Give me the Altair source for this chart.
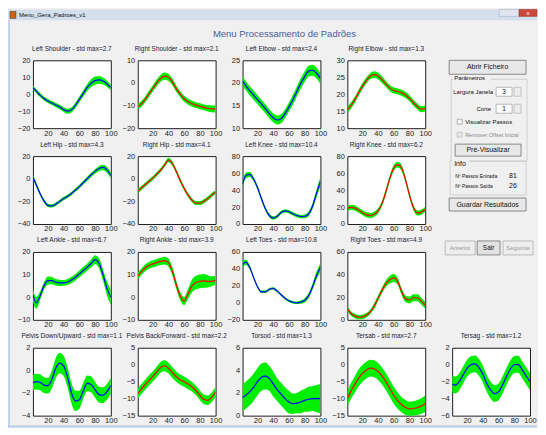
import altair as alt
import pandas as pd

# ---------------- data ----------------
X = [1, 5, 10, 15, 20, 25, 30, 35, 40, 45, 50, 55, 60, 65, 70, 75, 80, 85, 90, 95, 100]

LEFT_SHOULDER_MEAN = [3.8, 2.0, -0.5, -2.5, -4.0, -5.2, -6.3, -7.5, -9.0, -10.0, -9.2, -6.5, -3.0, 0.5, 4.0, 6.5, 8.0, 8.5, 7.8, 6.2, 4.0]
LEFT_SHOULDER_STD = [1.2, 1.2, 1.2, 1.2, 1.2, 1.2, 1.3, 1.3, 1.4, 1.5, 1.5, 1.6, 1.7, 1.9, 2.1, 2.3, 2.4, 2.3, 2.1, 1.9, 1.7]

RIGHT_SHOULDER_MEAN = [-10.5, -9.5, -7.5, -5.0, -2.5, 0.0, 2.0, 3.0, 2.5, 0.5, -2.5, -5.0, -7.0, -8.3, -9.2, -9.8, -10.3, -10.8, -11.2, -11.5, -11.5]
RIGHT_SHOULDER_STD = [1.3, 1.3, 1.3, 1.4, 1.4, 1.5, 1.5, 1.6, 1.6, 1.5, 1.4, 1.3, 1.3, 1.3, 1.3, 1.3, 1.3, 1.3, 1.4, 1.5, 1.6]

LEFT_ELBOW_MEAN = [20.4, 19.4, 18.3, 17.3, 16.3, 15.3, 14.3, 13.2, 12.3, 11.8, 12.1, 13.2, 14.7, 16.3, 18.1, 19.9, 21.4, 22.6, 22.8, 22.2, 21.0]
LEFT_ELBOW_STD = [1.1, 1.0, 1.0, 1.0, 1.0, 1.0, 1.0, 1.0, 1.0, 1.0, 1.0, 1.0, 1.0, 1.1, 1.1, 1.2, 1.2, 1.2, 1.2, 1.2, 1.2]

RIGHT_ELBOW_MEAN = [15.5, 16.5, 18.2, 20.3, 22.3, 24.0, 25.3, 25.8, 25.4, 24.3, 23.0, 21.8, 21.1, 20.8, 20.4, 19.8, 18.8, 17.5, 16.4, 15.6, 15.8]
RIGHT_ELBOW_STD = [0.9, 0.9, 0.9, 0.9, 0.9, 0.9, 0.9, 1.0, 1.0, 1.0, 0.9, 0.9, 0.9, 0.9, 0.9, 0.9, 0.9, 0.9, 0.9, 0.9, 0.9]

LEFT_HIP_MEAN = [1.5, -5.0, -13.0, -19.5, -23.5, -24.0, -22.5, -20.0, -17.5, -15.5, -13.0, -10.0, -7.0, -3.5, 0.0, 3.5, 6.5, 9.0, 10.0, 8.0, 3.0]
LEFT_HIP_STD = [2.0, 1.8, 1.6, 1.5, 1.5, 1.5, 1.5, 1.5, 1.5, 1.5, 1.5, 1.6, 1.6, 1.7, 1.8, 1.9, 2.0, 2.2, 2.4, 2.6, 2.8]

RIGHT_HIP_MEAN = [-11.0, -8.5, -5.5, -2.5, 0.5, 4.0, 7.5, 12.0, 16.5, 13.5, 6.5, -1.5, -8.5, -14.5, -19.0, -21.5, -21.5, -20.0, -17.5, -14.5, -12.0]
RIGHT_HIP_STD = [1.8, 1.8, 1.8, 1.8, 1.8, 1.8, 1.8, 1.9, 2.0, 2.0, 2.0, 2.0, 1.9, 1.8, 1.8, 1.8, 1.8, 1.8, 1.8, 1.8, 1.8]

LEFT_KNEE_MEAN = [47.0, 57.0, 58.5, 53.0, 43.0, 30.0, 18.0, 10.0, 7.0, 9.0, 13.5, 15.5, 14.5, 12.0, 10.0, 8.7, 9.0, 12.0, 21.0, 36.0, 50.0]
LEFT_KNEE_STD = [4.0, 3.5, 3.0, 2.5, 2.5, 2.5, 2.2, 2.0, 2.0, 2.0, 2.0, 2.0, 2.0, 2.0, 2.0, 2.0, 2.2, 2.6, 3.5, 4.5, 5.5]

RIGHT_KNEE_MEAN = [18.0, 19.5, 19.0, 16.5, 13.5, 11.0, 10.0, 11.5, 15.5, 24.0, 38.0, 54.0, 66.0, 70.0, 66.0, 52.0, 34.0, 19.5, 13.0, 14.0, 17.0]
RIGHT_KNEE_STD = [3.0, 3.0, 3.0, 3.0, 3.0, 3.0, 3.0, 3.0, 3.0, 3.2, 3.5, 3.5, 3.5, 3.5, 3.5, 3.5, 3.5, 3.2, 3.0, 3.0, 3.0]

LEFT_ANKLE_MEAN = [1.0, -2.5, 0.5, 5.0, 7.3, 7.3, 6.6, 6.3, 6.3, 6.7, 7.6, 8.8, 10.3, 11.8, 13.3, 14.9, 16.6, 15.0, 10.0, 4.0, 0.0]
LEFT_ANKLE_STD = [3.0, 2.6, 2.0, 1.6, 1.8, 1.6, 1.4, 1.4, 1.3, 1.3, 1.4, 1.4, 1.5, 1.6, 1.6, 1.8, 1.9, 2.2, 2.5, 3.0, 3.5]

RIGHT_ANKLE_MEAN = [9.5, 11.0, 12.8, 14.0, 14.7, 15.3, 15.8, 16.2, 15.3, 11.5, 5.5, 0.5, -1.7, 1.5, 5.0, 6.5, 7.0, 7.2, 7.0, 7.0, 7.5]
RIGHT_ANKLE_STD = [1.5, 1.5, 1.5, 1.5, 1.6, 1.6, 1.6, 1.7, 1.8, 1.8, 1.8, 1.8, 1.8, 2.2, 2.8, 3.0, 3.0, 3.0, 2.7, 2.2, 2.0]

LEFT_TOES_MEAN = [45.0, 48.0, 42.0, 30.0, 19.0, 13.0, 13.0, 16.0, 17.0, 14.0, 9.5, 5.5, 2.5, 0.7, 0.0, 0.8, 3.0, 8.5, 19.0, 32.0, 42.0]
LEFT_TOES_STD = [4.0, 3.0, 2.5, 2.0, 1.5, 1.5, 1.5, 1.5, 1.5, 1.5, 1.5, 1.5, 1.5, 1.5, 1.5, 2.0, 2.5, 3.0, 3.5, 4.5, 5.0]

RIGHT_TOES_MEAN = [10.0, 6.0, 3.5, 2.3, 2.5, 4.0, 7.0, 12.0, 19.0, 26.0, 32.0, 35.5, 37.0, 34.0, 25.0, 18.5, 17.5, 19.5, 19.5, 16.5, 13.0]
RIGHT_TOES_STD = [2.0, 2.0, 2.0, 2.0, 2.0, 2.0, 2.0, 2.5, 2.5, 2.5, 3.0, 3.5, 3.5, 3.0, 3.0, 3.0, 3.0, 3.0, 3.0, 3.0, 3.0]

PELVIS_DU_MEAN = [-1.1, -1.0, -1.05, -1.3, -1.35, -0.8, 0.2, 0.65, 0.4, -0.6, -2.0, -2.7, -2.6, -1.8, -1.15, -1.25, -1.7, -2.15, -2.2, -1.9, -1.35]
PELVIS_DU_STD = [0.7, 0.7, 0.7, 0.7, 0.7, 0.8, 0.9, 0.9, 0.9, 0.9, 0.9, 0.9, 0.8, 0.7, 0.7, 0.7, 0.7, 0.7, 0.7, 0.7, 0.7]

PELVIS_BF_MEAN = [-8.5, -7.3, -6.0, -4.7, -3.5, -2.2, -0.8, -0.3, -1.0, -2.3, -3.5, -4.4, -5.0, -5.7, -6.5, -7.6, -9.0, -10.2, -10.5, -9.6, -8.0]
PELVIS_BF_STD = [1.5, 1.5, 1.5, 1.5, 1.5, 1.6, 1.6, 1.6, 1.6, 1.6, 1.5, 1.5, 1.5, 1.5, 1.4, 1.4, 1.4, 1.4, 1.4, 1.4, 1.5]

TORSOD_MEAN = [1.6, 1.8, 2.1, 2.5, 3.0, 3.4, 3.5, 3.3, 2.8, 2.3, 1.9, 1.5, 1.2, 1.05, 1.1, 1.2, 1.35, 1.45, 1.5, 1.5, 1.5]
TORSOD_STD = [1.2, 1.2, 1.2, 1.2, 1.2, 1.2, 1.2, 1.1, 1.1, 1.0, 1.0, 1.0, 1.0, 0.9, 0.9, 1.0, 1.0, 1.1, 1.1, 1.2, 1.3]

TERSAB_MEAN = [-10.0, -8.0, -6.0, -4.0, -2.6, -1.6, -1.0, -1.2, -2.0, -3.3, -5.0, -7.0, -9.0, -10.6, -11.8, -12.6, -13.0, -12.9, -12.6, -12.2, -11.5]
TERSAB_STD = [2.2, 2.3, 2.4, 2.5, 2.5, 2.5, 2.5, 2.5, 2.5, 2.5, 2.5, 2.5, 2.5, 2.4, 2.3, 2.2, 2.1, 2.1, 2.2, 2.3, 2.4]

TERSAG_MEAN = [-2.3, -2.4, -2.0, -1.2, -0.4, 0.0, 0.1, -0.3, -1.1, -2.2, -3.0, -3.4, -3.2, -2.4, -1.4, -0.5, 0.0, 0.05, -0.6, -1.3, -2.0]
TERSAG_STD = [1.0, 1.0, 1.0, 1.0, 1.0, 1.0, 1.0, 1.0, 1.0, 1.0, 1.0, 1.0, 1.0, 1.0, 1.0, 1.0, 1.0, 1.0, 1.0, 1.0, 1.0]

X_TICKS = [20, 40, 60, 80, 100]

# ---------------- styles ----------------
BLUE = "#0000ff"
RED = "#ff0000"
GREEN = "#00ee00"
FONT = "Liberation Sans"

SERIES = [
    ("Left Shoulder - std max=2.7", LEFT_SHOULDER_MEAN, LEFT_SHOULDER_STD, BLUE, -20, 20, 10),
    ("Right Shoulder - std max=2.1", RIGHT_SHOULDER_MEAN, RIGHT_SHOULDER_STD, RED, -20, 10, 10),
    ("Left Elbow - std max=2.4", LEFT_ELBOW_MEAN, LEFT_ELBOW_STD, BLUE, 10, 25, 5),
    ("Right Elbow - std max=1.3", RIGHT_ELBOW_MEAN, RIGHT_ELBOW_STD, RED, 10, 30, 5),
    ("Left Hip - std max=4.3", LEFT_HIP_MEAN, LEFT_HIP_STD, BLUE, -40, 20, 20),
    ("Right Hip - std max=4.1", RIGHT_HIP_MEAN, RIGHT_HIP_STD, RED, -40, 20, 20),
    ("Left Knee - std max=10.4", LEFT_KNEE_MEAN, LEFT_KNEE_STD, BLUE, 0, 80, 20),
    ("Right Knee - std max=6.2", RIGHT_KNEE_MEAN, RIGHT_KNEE_STD, RED, 0, 80, 20),
    ("Left Ankle - std max=6.7", LEFT_ANKLE_MEAN, LEFT_ANKLE_STD, BLUE, -10, 20, 10),
    ("Right Ankle - std max=3.9", RIGHT_ANKLE_MEAN, RIGHT_ANKLE_STD, RED, -10, 20, 10),
    ("Left Toes - std max=10.8", LEFT_TOES_MEAN, LEFT_TOES_STD, BLUE, -20, 60, 20),
    ("Right Toes - std max=4.9", RIGHT_TOES_MEAN, RIGHT_TOES_STD, RED, 0, 60, 20),
    ("Pelvis Down/Upward - std max=1.1", PELVIS_DU_MEAN, PELVIS_DU_STD, BLUE, -4, 2, 2),
    ("Pelvis Back/Forward - std max=2.2", PELVIS_BF_MEAN, PELVIS_BF_STD, RED, -15, 5, 5),
    ("Torsod - std max=1.3", TORSOD_MEAN, TORSOD_STD, BLUE, 0, 6, 2),
    ("Tersab - std max=2.7", TERSAB_MEAN, TERSAB_STD, RED, -15, 5, 5),
    ("Tersag - std max=1.2", TERSAG_MEAN, TERSAG_STD, BLUE, -6, 2, 2),
]

PW, PH = 78, 68


def plot(title, mean, std, color, lo, hi, step):
    df = pd.DataFrame({"x": X, "m": mean, "s": std})
    base = alt.Chart(df).transform_calculate(lo="datum.m - datum.s", hi="datum.m + datum.s")
    xs = alt.Scale(domain=[1, 100], nice=False, zero=False)
    ys = alt.Scale(domain=[lo, hi], nice=False, zero=False)
    xax = alt.Axis(values=X_TICKS, title=None, labelFlush=False, labelPadding=1)
    yax = alt.Axis(values=list(range(lo, hi + 1, step)), title=None, labelPadding=3)
    band = base.mark_area(color=GREEN, interpolate="monotone", clip=True).encode(
        x=alt.X("x:Q", scale=xs, axis=xax),
        y=alt.Y("lo:Q", scale=ys, axis=yax),
        y2="hi:Q",
    )
    line = base.mark_line(color=color, strokeWidth=1.2, interpolate="monotone", clip=True).encode(
        x=alt.X("x:Q", scale=xs, axis=xax),
        y=alt.Y("m:Q", scale=ys, axis=yax),
    )
    return alt.layer(band, line).properties(
        width=PW,
        height=PH,
        title=alt.TitleParams(title, fontSize=6.5, font=FONT, fontWeight="normal",
                              color="#1a1a33", offset=4, anchor="middle"),
        view=alt.ViewBackground(fill="white", stroke="#1e1e1e", strokeWidth=1, strokeOpacity=1),
    )


def blank():
    return alt.Chart(pd.DataFrame({"v": [0]})).mark_point(opacity=0).encode(
        x=alt.X("v:Q", axis=None), y=alt.Y("v:Q", axis=None)
    ).properties(width=PW, height=PH, view=alt.ViewBackground(strokeOpacity=0))


# ---------------- window chrome / control panel (page layout) ----------------
GUI_RECTS = [
    # x, x2, y, y2, fill, fillOpacity, stroke, strokeWidth
    (8, 538, 8, 19, "#d3dfec", 1, "#d3dfec", 0),
    (10, 16, 10, 17, "#c8641e", 1, "#5a2a0a", 0.5),
    (500, 520, 8, 15, "#dfe6ee", 1, "#a0aab6", 0.5),
    (520, 538, 8, 15, "#c9483c", 1, "#8a2a22", 0.5),
    (8, 10, 19, 427, "#c2d3e6", 1, "#c2d3e6", 0),
    (8, 538, 425, 427, "#b8cde4", 1, "#b8cde4", 0),
    (450, 527, 59, 73, "#e8e8e8", 1, "#707070", 0.8),
    (452, 528, 78, 160, "#f0f0f0", 0, "#c8c8c8", 0.8),
    (454, 492, 74, 81, "#f0f0f0", 1, "#f0f0f0", 0),
    (497, 513, 86, 95, "#ffffff", 1, "#8a8a8a", 0.6),
    (515, 522, 86, 95, "#ececec", 1, "#a8a8a8", 0.6),
    (497, 513, 103, 112, "#ffffff", 1, "#8a8a8a", 0.6),
    (515, 522, 103, 112, "#ececec", 1, "#a8a8a8", 0.6),
    (458, 463, 118, 123, "#f4f4f4", 1, "#8a8a8a", 0.6),
    (458, 463, 131, 136, "#e8e8e8", 1, "#b0b0b0", 0.6),
    (456, 522, 143, 155, "#e8e8e8", 1, "#707070", 0.8),
    (451, 527, 160, 194, "#f0f0f0", 0, "#c8c8c8", 0.8),
    (453, 470, 158, 167, "#f0f0f0", 1, "#f0f0f0", 0),
    (450, 527, 197, 210, "#e8e8e8", 1, "#707070", 0.8),
    (446, 476, 240, 254, "#eeeeee", 1, "#b0b0b0", 0.8),
    (478, 501, 240, 254, "#e2e2e2", 1, "#707070", 0.8),
    (504, 534, 240, 254, "#eeeeee", 1, "#b0b0b0", 0.8),
]

GUI_TEXT_CENTER = [
    ("Menu Processamento de Padrões", 285, 33, 9.5, "#4a5a9c"),
    ("Abrir Ficheiro", 488.5, 66, 7, "#111111"),
    ("3", 505, 90.5, 6.5, "#111111"),
    ("1", 505, 107.5, 6.5, "#111111"),
    ("Pré-Visualizar", 489, 149, 7, "#111111"),
    ("Guardar Resultados", 488.5, 203.5, 7, "#111111"),
    ("Anterior", 461, 247, 6, "#9a9a9a"),
    ("Sair", 489.5, 247, 6.5, "#111111"),
    ("Seguinte", 519, 247, 6, "#9a9a9a"),
    ("x", 529, 11.5, 6, "#ffffff"),
]

GUI_TEXT_LEFT = [
    ("Menu_Gera_Padroes_v1", 19, 13.5, 6, "#111111"),
    ("Parâmetros", 455, 77, 6, "#111111"),
    ("Visualizar Passos", 466, 120.5, 6, "#111111"),
    ("Remover Offset Inicial", 466, 133.5, 5.5, "#8a8a8a"),
    ("Info", 455, 163, 7, "#111111"),
    ("Nº Passos Entrada", 456, 174.5, 5, "#111111"),
    ("Nº Passos Saída", 456, 184.5, 5, "#111111"),
    ("81", 510, 175, 7, "#111111"),
    ("26", 510, 185, 7, "#111111"),
]

GUI_TEXT_RIGHT = [
    ("Largura Janela", 494, 90.5, 6, "#111111"),
    ("Corte", 492, 107.5, 6, "#111111"),
]

HX = alt.Scale(domain=[33, 538], nice=False, zero=False)
HY = alt.Scale(domain=[8, 45], nice=False, zero=False, reverse=True)

rect_df = pd.DataFrame(GUI_RECTS, columns=["x", "x2", "y", "y2", "fill", "fo", "stroke", "sw"])
rects = alt.Chart(rect_df).mark_rect().encode(
    x=alt.X("x:Q", scale=HX, axis=None),
    x2="x2:Q",
    y=alt.Y("y:Q", scale=HY, axis=None),
    y2="y2:Q",
    fill=alt.Fill("fill:N", scale=None),
    fillOpacity=alt.FillOpacity("fo:Q", scale=None),
    stroke=alt.Stroke("stroke:N", scale=None),
    strokeWidth=alt.StrokeWidth("sw:Q", scale=None),
)


def texts(rows, align):
    df = pd.DataFrame(rows, columns=["t", "x", "y", "fs", "c"])
    return alt.Chart(df).mark_text(align=align, baseline="middle", font=FONT).encode(
        x=alt.X("x:Q", scale=HX, axis=None),
        y=alt.Y("y:Q", scale=HY, axis=None),
        text="t:N",
        size=alt.Size("fs:Q", scale=None),
        color=alt.Color("c:N", scale=None),
    )


header = alt.layer(
    rects,
    texts(GUI_TEXT_CENTER, "center"),
    texts(GUI_TEXT_LEFT, "left"),
    texts(GUI_TEXT_RIGHT, "right"),
).properties(width=505, height=37, view=alt.ViewBackground(strokeOpacity=0))

cells = []
for i, s in enumerate(SERIES):
    cells.append(plot(*s))
    if i in (3, 7, 11):
        cells.append(blank())

grid = alt.concat(*cells, columns=5, spacing={"row": 28, "column": 27}, bounds="flush")

chart = alt.vconcat(header, grid, spacing=14, bounds="flush").properties(
    padding=0, background="#f0f0f0"
).configure_axis(
    labelFont=FONT, labelFontSize=7.5, labelColor="#222222",
    ticks=False, domain=False, grid=False,
)

chart.save("out.html", embed_options={"renderer": "svg", "actions": False})
